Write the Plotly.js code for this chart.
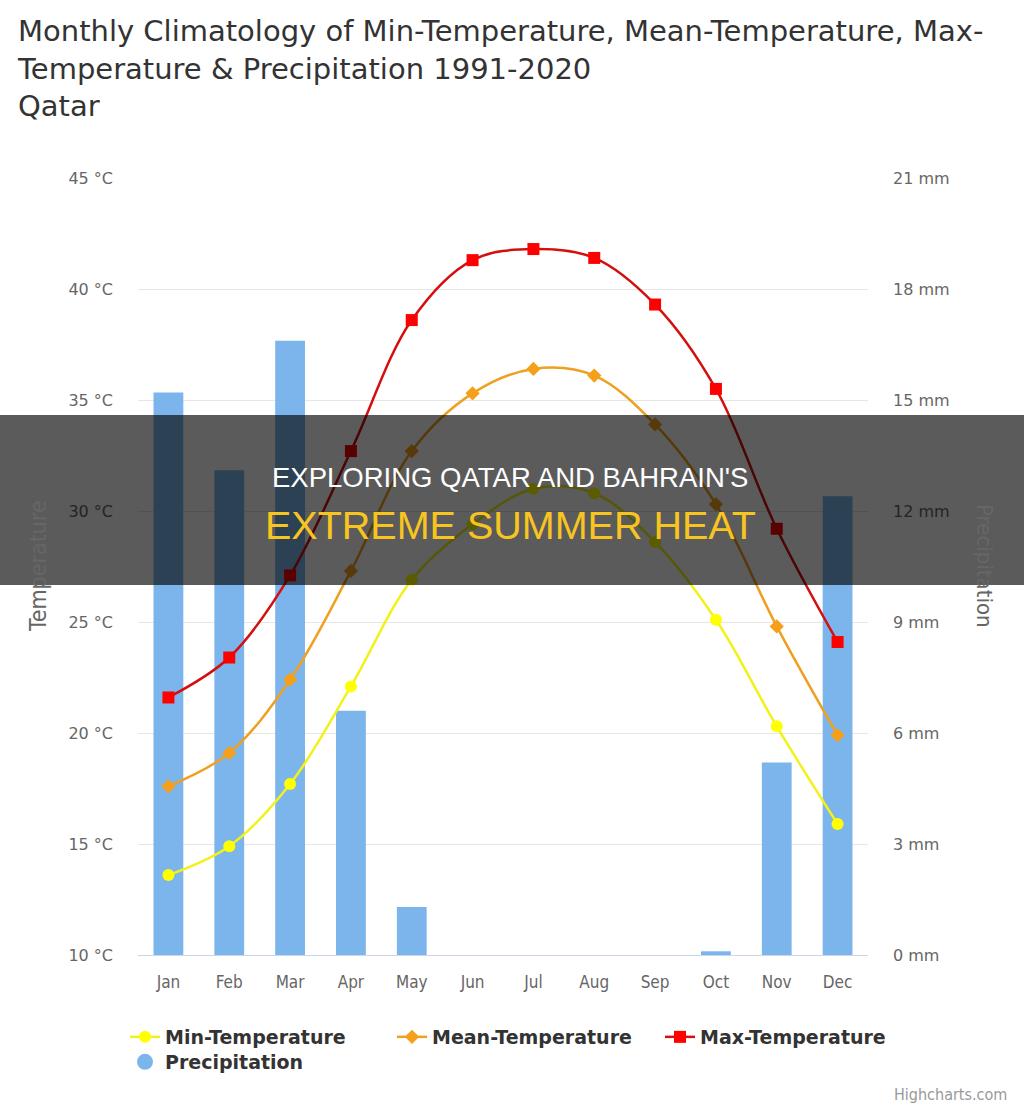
<!DOCTYPE html>
<html>
<head>
<meta charset="utf-8">
<script src="https://cdn.plot.ly/plotly-3.0.1.min.js"></script>
<style>
html,body{margin:0;padding:0;background:#ffffff;}
#chart{width:1024px;height:1109px;}
</style>
</head>
<body>
<div id="chart"></div>
<script>
const months = ['Jan','Feb','Mar','Apr','May','Jun','Jul','Aug','Sep','Oct','Nov','Dec'];
const minTemp = [13.6, 14.9, 17.7, 22.1, 26.9, 29.4, 31.0, 30.8, 28.6, 25.1, 20.3, 15.9];
const meanTemp = [17.6, 19.1, 22.4, 27.3, 32.7, 35.3, 36.4, 36.1, 33.9, 30.3, 24.8, 19.9];
const maxTemp = [21.6, 23.4, 27.1, 32.7, 38.6, 41.3, 41.8, 41.4, 39.3, 35.5, 29.2, 24.1];
const precipitation = [15.2, 13.1, 16.6, 6.6, 1.3, 0, 0, 0, 0, 0.1, 5.2, 12.4];
const tempTicks = [10, 15, 20, 25, 30, 35, 40, 45];
const tempTickText = tempTicks.map(v => v + ' °C');
const precipTicks = [0, 3, 6, 9, 12, 15, 18, 21];
const precipTickText = precipTicks.map(v => v + ' mm');

const COND = '"DejaVu Sans Condensed", "Liberation Sans Narrow", "Open Sans", sans-serif';
const WIDE = '"DejaVu Sans", Verdana, sans-serif';
const W = 1024, H = 1109;
const PL = 138, PR = 868, PT = 178, PB = 955;
const PW = PR - PL, PH = PB - PT;
const px2x = x => (x - PL) / PW;
const px2y = y => (PB - y) / PH;

const legendFont = {family: WIDE, size: 19, color: '#333333', weight: 'bold'};

const data = [
  {
    type: 'bar', name: 'Precipitation', x: months, y: precipitation,
    yaxis: 'y', marker: {color: '#7cb5ec'}, width: 0.49,
    showlegend: false, legend: 'legend4'
  },
  {
    type: 'scatter', mode: 'lines+markers', name: 'Min-Temperature', x: months, y: minTemp,
    yaxis: 'y2', line: {color: '#f2f21a', width: 2.5, shape: 'spline', smoothing: 1},
    marker: {symbol: 'circle', size: 12, color: '#ffff00'}, legend: 'legend'
  },
  {
    type: 'scatter', mode: 'lines+markers', name: 'Mean-Temperature', x: months, y: meanTemp,
    yaxis: 'y2', line: {color: '#f0a020', width: 2.5, shape: 'spline', smoothing: 1},
    marker: {symbol: 'diamond', size: 11, color: '#f5a01a'}, legend: 'legend2'
  },
  {
    type: 'scatter', mode: 'lines+markers', name: 'Max-Temperature', x: months, y: maxTemp,
    yaxis: 'y2', line: {color: '#d40f0f', width: 2.5, shape: 'spline', smoothing: 1},
    marker: {symbol: 'square', size: 12, color: '#ff0000'}, legend: 'legend3'
  },
  {
    // legend entry for the precipitation bars, drawn with Highcharts' round symbol
    type: 'scatter', mode: 'markers', name: 'Precipitation', x: [null], y: [null],
    yaxis: 'y', marker: {symbol: 'circle', size: 16, color: '#7cb5ec'}, legend: 'legend4',
    hoverinfo: 'skip'
  }
];

function legendAt(xpx, ypx) {
  return {
    xref: 'container', yref: 'container', x: xpx / W, y: 1 - ypx / H,
    xanchor: 'left', yanchor: 'middle', orientation: 'h',
    bgcolor: 'rgba(0,0,0,0)', borderwidth: 0, font: legendFont
  };
}

const layout = {
  width: W, height: H,
  paper_bgcolor: '#ffffff', plot_bgcolor: '#ffffff',
  margin: {l: PL, r: W - PR, t: PT, b: H - PB, pad: 0},
  showlegend: true,
  title: {
    text: 'Monthly Climatology of Min-Temperature, Mean-Temperature, Max-<br>Temperature & Precipitation 1991-2020<br>Qatar',
    xref: 'container', yref: 'container', x: 18 / W, xanchor: 'left',
    y: 1 - 41 / H, yanchor: 'top',
    font: {family: WIDE, size: 29, color: '#333333'}
  },
  xaxis: {
    type: 'category', range: [-0.5, 11.5], showgrid: false, zeroline: false,
    showline: true, linecolor: '#ccd6eb', linewidth: 1, ticks: '',
    tickfont: {family: COND, size: 17, color: '#666666'},
    ticklabelstandoff: 12, fixedrange: true
  },
  yaxis: {
    side: 'right', range: [0, 21], tickmode: 'array', tickvals: precipTicks, ticktext: precipTickText,
    showgrid: true, gridcolor: '#e6e6e6', gridwidth: 1, zeroline: false, showline: false,
    tickfont: {family: WIDE, size: 16, color: '#666666'},
    ticklabelstandoff: 24, fixedrange: true
  },
  yaxis2: {
    side: 'left', overlaying: 'y', range: [10, 45], tickmode: 'array', tickvals: tempTicks, ticktext: tempTickText,
    showgrid: false, zeroline: false, showline: false,
    tickfont: {family: WIDE, size: 16, color: '#666666'},
    ticklabelstandoff: 24, fixedrange: true
  },
  legend: legendAt(125, 1037),
  legend2: legendAt(392, 1037),
  legend3: legendAt(660, 1037),
  legend4: legendAt(125, 1062),
  shapes: [
    {
      type: 'rect', xref: 'paper', yref: 'paper',
      x0: px2x(0), x1: px2x(W), y0: px2y(585), y1: px2y(415),
      fillcolor: 'rgba(0,0,0,0.645)', line: {width: 0}, layer: 'above'
    }
  ],
  annotations: [
    {
      text: 'Temperature', xref: 'paper', yref: 'paper', x: px2x(38), y: px2y(566),
      textangle: -90, showarrow: false, xanchor: 'center', yanchor: 'middle',
      font: {family: COND, size: 23, color: '#666666'}
    },
    {
      text: 'Precipitation', xref: 'paper', yref: 'paper', x: px2x(985), y: px2y(566),
      textangle: 90, showarrow: false, xanchor: 'center', yanchor: 'middle',
      font: {family: COND, size: 22, color: '#666666'}
    },
    {
      text: 'Highcharts.com', xref: 'paper', yref: 'paper', x: px2x(1009), y: px2y(1094),
      showarrow: false, xanchor: 'right', yanchor: 'middle',
      font: {family: COND, size: 16, color: '#999999'}
    },
    {
      text: "EXPLORING QATAR AND BAHRAIN'S", xref: 'paper', yref: 'paper',
      x: px2x(510), y: px2y(477), showarrow: false, xanchor: 'center', yanchor: 'middle',
      font: {family: '"Liberation Sans", Arial, sans-serif', size: 27.5, color: '#ffffff'}
    },
    {
      text: 'EXTREME SUMMER HEAT', xref: 'paper', yref: 'paper',
      x: px2x(511), y: px2y(525), showarrow: false, xanchor: 'center', yanchor: 'middle',
      font: {family: '"Liberation Sans", Arial, sans-serif', size: 39.5, color: '#f8c520'}
    }
  ]
};

Plotly.newPlot('chart', data, layout, {displayModeBar: false, staticPlot: true});
</script>
</body>
</html>
